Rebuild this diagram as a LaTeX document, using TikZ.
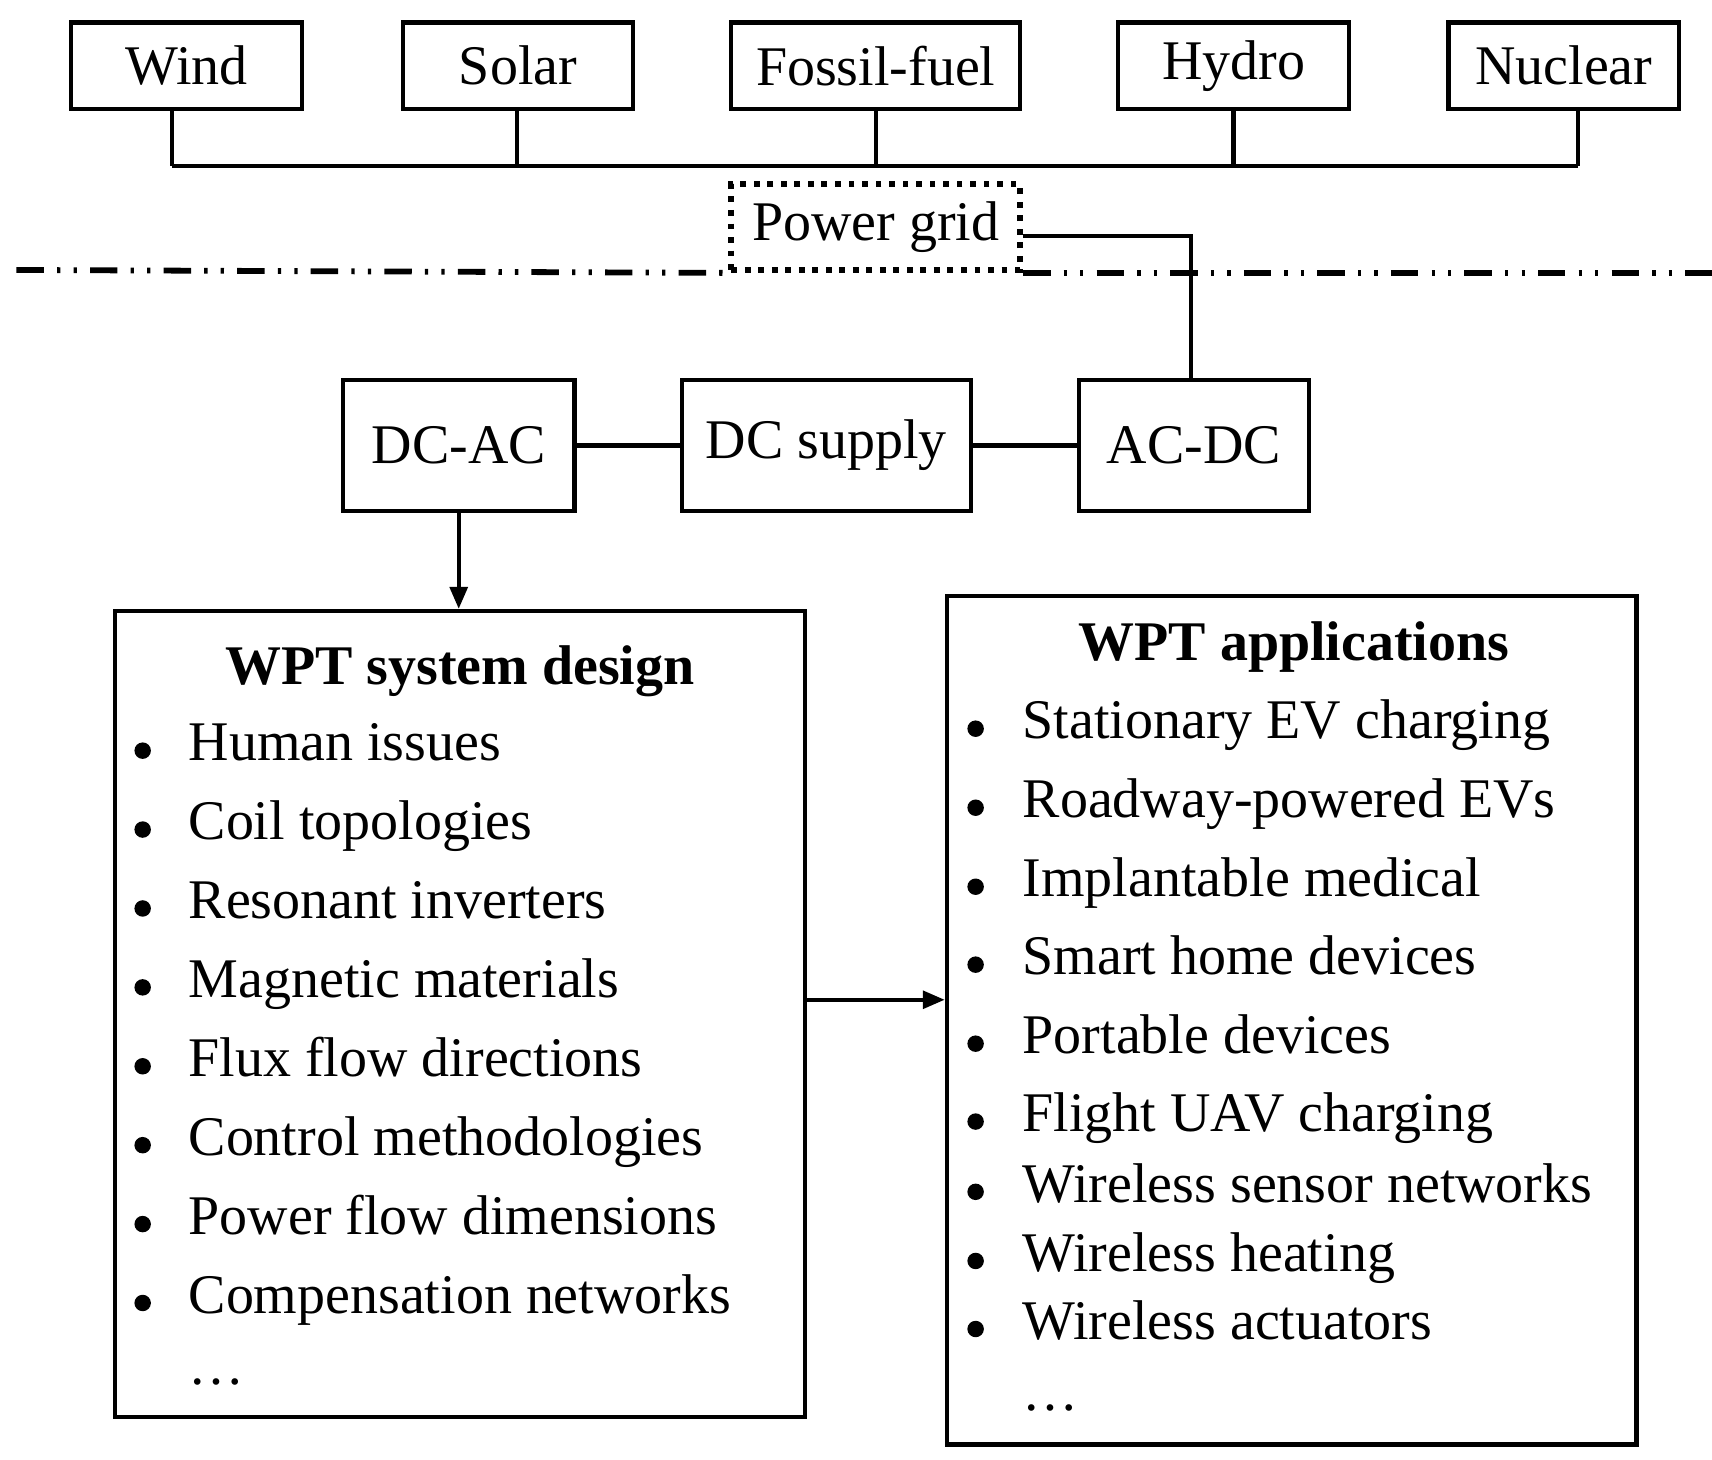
\documentclass[tikz,border=0pt]{standalone}
\usepackage{fontspec}
\setmainfont{Liberation Serif}
\usetikzlibrary{arrows.meta}
\begin{document}
\begin{tikzpicture}[x=0.01cm,y=-0.01cm,line width=1.1pt,
 box/.style={draw,minimum height=0.79cm,inner sep=0pt,font=\fontsize{14.5}{17}\selectfont},
 item/.style={anchor=west,inner sep=0pt,text height=1.6ex,text depth=0.45ex,font=\fontsize{14.5}{17}\selectfont},
 bul/.style={circle,fill,inner sep=0pt,minimum size=0.15cm},
 arr/.style={-{Triangle[length=0.2cm,width=0.16cm]}}]
\useasboundingbox (0,0) rectangle (1560,1330);
\node[box,minimum width=2.1cm] (wind) at (170,60) {Wind};
\node[box,minimum width=2.1cm] (solar) at (472,60) {Solar};
\node[box,minimum width=2.63cm] (fossil) at (798,60) {Fossil-fuel};
\node[box,minimum width=2.1cm] (hydro) at (1124,60) {Hydro};
\node[box,minimum width=2.1cm] (nuclear) at (1425,60) {Nuclear};
\coordinate (b1) at (157,151);
\coordinate (b5) at (1438,151);
\draw (b1) -- (b5);
\draw (wind.south -| b1) -- (b1);
\draw (solar.south -| 471,0) -- (471,151);
\draw (fossil.south) -- (fossil.south |- b1);
\draw (hydro.south) -- (hydro.south |- b1);
\draw (nuclear.south -| b5) -- (b5);
\node[box,dotted,line width=1.5pt,minimum width=2.63cm,minimum height=0.78cm] (grid) at (798,207) {Power grid};
\coordinate (l0) at (15,246);
\coordinate (r1) at (1560,249);
\draw[dash pattern=on 0.25cm off 0.12cm on 0.03cm off 0.12cm on 0.03cm off 0.12cm,line width=1.5pt] (l0) -- (grid.south west);
\draw[dash pattern=on 0.25cm off 0.12cm on 0.03cm off 0.12cm on 0.03cm off 0.12cm,line width=1.5pt] (grid.south east |- r1) -- (r1);
\node[box,minimum width=2.11cm,minimum height=1.19cm] (dcac) at (418,406) {DC-AC};
\node[box,minimum width=2.63cm,minimum height=1.19cm] (dcs) at (753,406) {DC supply};
\node[box,minimum width=2.09cm,minimum height=1.19cm] (acdc) at (1088,406) {AC-DC};
\coordinate (k) at (1085,215);
\draw (grid.east |- k) -- (k) -- (k |- acdc.north);
\draw (dcac) -- (dcs);
\draw (dcs) -- (acdc);
\node[draw,minimum width=6.28cm,minimum height=7.34cm] (left) at (419,924) {};
\node[draw,minimum width=6.28cm,minimum height=7.73cm] (right) at (1177,929.5) {};
\draw[arr] (dcac.south) -- (dcac.south |- left.north);
\coordinate (a0) at (733,911);
\draw[arr] (a0) -- (a0 -| right.west);
\node[font=\fontsize{14.5}{17}\selectfont\bfseries] (lt) at (419,612) {WPT system design};
\foreach \t [count=\i] in {Human issues,Coil topologies,Resonant inverters,Magnetic materials,Flux flow directions,Control methodologies,Power flow dimensions,Compensation networks}{
 \pgfmathsetmacro\yy{684+71.9*(\i-1)}
 \node[bul] (lb\i) at (130,\yy) {};
 \node[item] (li\i) at (170,\yy) {\t};
}
\node[item] (ld) at (170,1252) {\dots};
\node[font=\fontsize{14.5}{17}\selectfont\bfseries] (rt) at (1179,590) {WPT applications};
\foreach \t/\yy [count=\i] in {Stationary EV charging/664,Roadway-powered EVs/736,Implantable medical/808,Smart home devices/879,Portable devices/951,Flight UAV charging/1022,Wireless sensor networks/1086,Wireless heating/1149,Wireless actuators/1211}{
 \node[bul] (rb\i) at (889,\yy) {};
 \node[item] (ri\i) at (930,\yy) {\t};
}
\node[item] (rd) at (930,1276) {\dots};
\end{tikzpicture}
\end{document}
